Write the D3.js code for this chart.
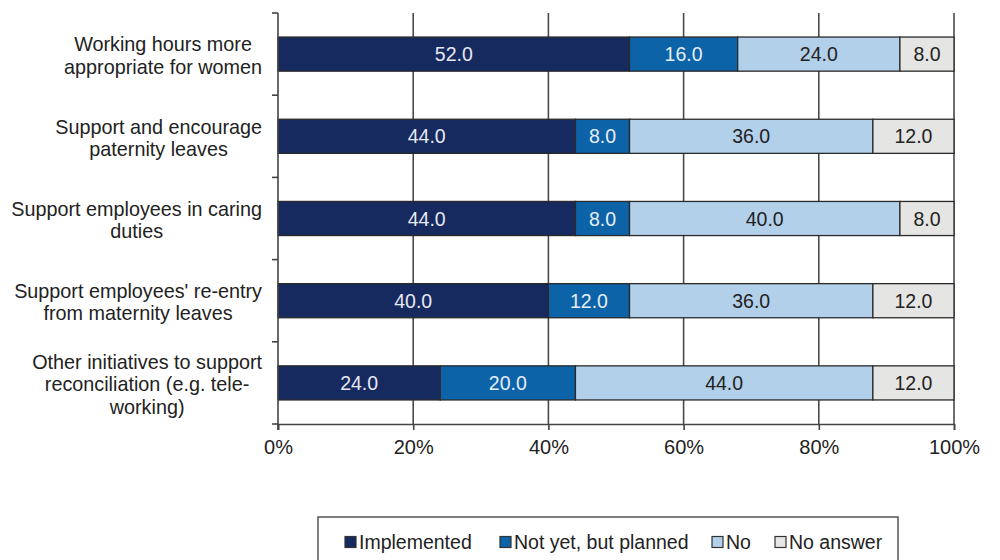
<!DOCTYPE html>
<html>
<head>
<meta charset="utf-8">
<script src="https://cdn.jsdelivr.net/npm/d3@7"></script>
<style>
  html, body { margin: 0; padding: 0; background: #fff; }
  svg text { font-family: "Liberation Sans", Arial, sans-serif; }
</style>
</head>
<body>
<svg id="chart" width="1000" height="560"></svg>
<script>
const categories = [
  ["Working hours more", "appropriate for women"],
  ["Support and encourage", "paternity leaves"],
  ["Support employees in caring", "duties"],
  ["Support employees' re-entry", "from maternity leaves"],
  ["Other initiatives to support", "reconciliation (e.g. tele-", "working)"]
];
const seriesNames = ["Implemented", "Not yet, but planned", "No", "No answer"];
const implemented = [52.0, 44.0, 44.0, 40.0, 24.0];
const planned = [16.0, 8.0, 8.0, 12.0, 20.0];
const no = [24.0, 36.0, 40.0, 36.0, 44.0];
const noAnswer = [8.0, 12.0, 8.0, 12.0, 12.0];
const xTicks = [0, 20, 40, 60, 80, 100];
const xTickLabels = ["0%", "20%", "40%", "60%", "80%", "100%"];

(function () {
const colors = ["#172a5f", "#0d63a8", "#b2d0ea", "#e5e5e3"];
const labelColors = ["#e6e8f2", "#e6eef8", "#222", "#222"];
const seriesValues = [implemented, planned, no, noAnswer];

const svg = d3.select("#chart");
const pLeft = 278, pRight = 954, pTop = 13, pBottom = 424;
const FS = 19.5, FS_CAT = 19.8, FS_TICK = 20;

const x = d3.scaleLinear().domain([0, 100]).range([pLeft, pRight]);
const y = d3.scaleBand().domain(d3.range(categories.length)).range([pTop, pBottom])
  .paddingInner(0.585).paddingOuter(0.2925);

// gridlines
svg.append("g").selectAll("line").data(xTicks.slice(1)).join("line")
  .attr("x1", d => x(d)).attr("x2", d => x(d))
  .attr("y1", pTop).attr("y2", pBottom)
  .attr("stroke", "#4a4a4a").attr("stroke-width", 1.6);

// stacked data
const stackData = categories.map((c, i) => {
  const o = { i };
  seriesNames.forEach((s, k) => o[s] = seriesValues[k][i]);
  return o;
});
const stacked = d3.stack().keys(seriesNames)(stackData);

const gBars = svg.append("g");
stacked.forEach((layer, k) => {
  const g = gBars.append("g");
  g.selectAll("rect").data(layer).join("rect")
    .attr("x", d => x(d[0]))
    .attr("y", d => y(d.data.i))
    .attr("width", d => x(d[1]) - x(d[0]))
    .attr("height", y.bandwidth())
    .attr("fill", colors[k])
    .attr("stroke", "#2a2a2a").attr("stroke-width", 1.3);
  g.selectAll("text").data(layer).join("text")
    .attr("x", d => (x(d[0]) + x(d[1])) / 2)
    .attr("y", d => y(d.data.i) + y.bandwidth() / 2 + 7)
    .attr("text-anchor", "middle")
    .attr("font-size", FS)
    .attr("fill", labelColors[k])
    .text(d => (d[1] - d[0]).toFixed(1));
});

// axes
const axisColor = "#444";
svg.append("line").attr("x1", pLeft).attr("x2", pLeft).attr("y1", pTop).attr("y2", pBottom + 6)
  .attr("stroke", axisColor).attr("stroke-width", 1.6);
const boundaries = d3.range(categories.length + 1).map(i => pTop + i * y.step());
svg.append("g").selectAll("line").data(boundaries).join("line")
  .attr("x1", pLeft - 6).attr("x2", pLeft)
  .attr("y1", d => d).attr("y2", d => d)
  .attr("stroke", axisColor).attr("stroke-width", 1.6);
const xAxis = d3.axisBottom(x).tickValues(xTicks).tickSize(6).tickFormat((d, i) => xTickLabels[i]);
const gx = svg.append("g").attr("transform", `translate(0,${pBottom})`).call(xAxis);
gx.select(".domain").attr("stroke", axisColor).attr("stroke-width", 1.6);
gx.selectAll(".tick line").attr("stroke", axisColor).attr("stroke-width", 1.6);
gx.selectAll(".tick text").attr("font-size", FS_TICK).attr("fill", "#222")
  .attr("font-family", "Liberation Sans, Arial, sans-serif").attr("y", 16).attr("dy", "0.71em");

// category labels
const labelRight = 262;
categories.forEach((lines, i) => {
  const g = svg.append("g");
  const texts = lines.map(l => g.append("text").attr("font-size", FS_CAT).attr("fill", "#222")
    .attr("text-anchor", "middle").text(l));
  const maxW = d3.max(texts, t => t.node().getComputedTextLength());
  const cx = labelRight - maxW / 2;
  const center = y(i) + y.bandwidth() / 2 + 2;
  const lh = 22.5;
  texts.forEach((t, j) => {
    const cy = center + (j - (lines.length - 1) / 2) * lh;
    t.attr("x", cx).attr("y", cy + 6.5);
  });
});

// legend
svg.append("rect").attr("x", 318).attr("y", 517).attr("width", 580).attr("height", 60)
  .attr("fill", "none").attr("stroke", "#555").attr("stroke-width", 1.5);
const legendX = [345, 500, 712, 775];
const lg = svg.append("g");
seriesNames.forEach((s, k) => {
  lg.append("rect").attr("x", legendX[k]).attr("y", 536.5).attr("width", 11).attr("height", 11)
    .attr("fill", colors[k]).attr("stroke", "#333").attr("stroke-width", 1.2);
  lg.append("text").attr("x", legendX[k] + 14).attr("y", 549).attr("font-size", FS)
    .attr("fill", "#222").text(s);
});
})();
</script>
</body>
</html>
